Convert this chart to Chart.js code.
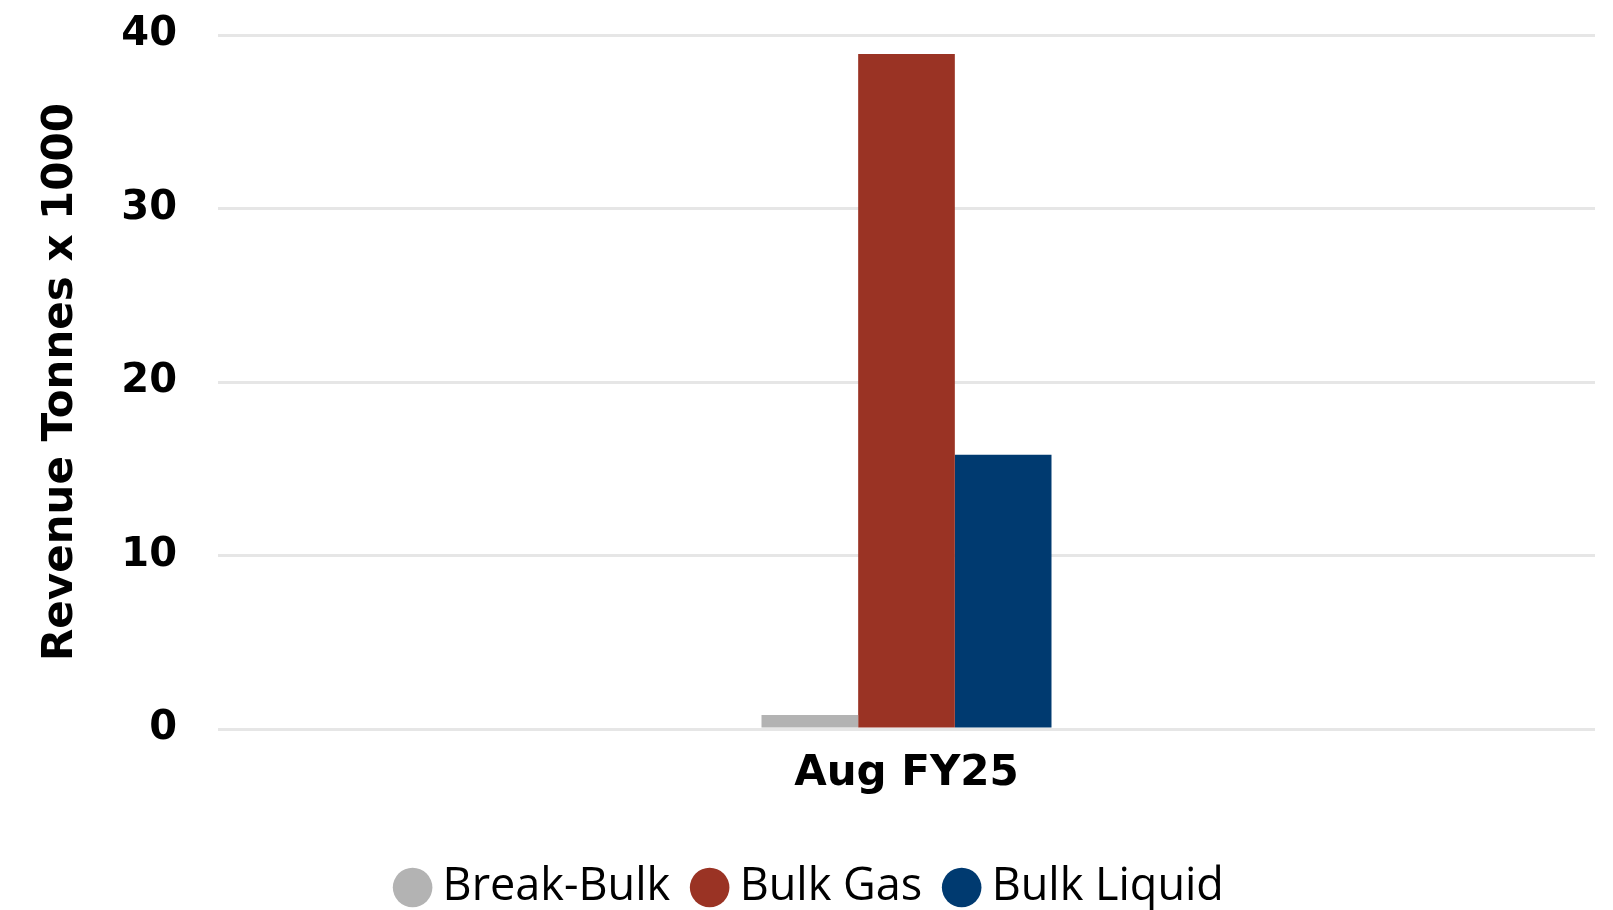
<!DOCTYPE html>
<html>
<head>
<meta charset="utf-8">
<script src="https://cdn.jsdelivr.net/npm/chart.js@4/dist/chart.umd.min.js"></script>
<style>
  html, body { margin: 0; padding: 0; background: #ffffff; }
  #wrap { width: 1613px; height: 910px; position: relative; }
</style>
</head>
<body>
<div id="wrap"><canvas id="c"></canvas></div>
<script>
const categories = ["Aug FY25"];
const seriesNames = ["Break-Bulk", "Bulk Gas", "Bulk Liquid"];
const breakBulk = [0.8];
const bulkGas = [38.9];
const bulkLiquid = [15.8];
const yTicks = [0, 10, 20, 30, 40];
const yTitle = "Revenue Tonnes x 1000";
const colors = ["#b3b3b3", "#9a3324", "#003a70"];

const seriesValues = [breakBulk, bulkGas, bulkLiquid];

const legendShift = {
  id: "legendShift",
  afterLayout(chart) {
    const lg = chart.legend;
    if (lg) { lg.left += 17; lg.right += 17; }
  }
};

new Chart(document.getElementById("c"), {
  type: "bar",
  data: {
    labels: categories,
    datasets: seriesNames.map((name, i) => ({
      label: name,
      data: seriesValues[i],
      backgroundColor: colors[i],
      borderWidth: 0,
      categoryPercentage: 0.2106,
      barPercentage: 1.0
    }))
  },
  plugins: [legendShift],
  options: {
    responsive: true,
    maintainAspectRatio: false,
    animation: false,
    devicePixelRatio: 1,
    layout: { padding: { top: 35, right: 18, bottom: -10, left: 0 } },
    plugins: {
      tooltip: { enabled: false },
      legend: {
        position: "bottom",
        labels: {
          usePointStyle: true,
          pointStyle: "circle",
          boxWidth: 15,
          boxHeight: 28,
          padding: 32,
          color: "#000000",
          font: { family: "'Open Sans', 'Noto Sans', sans-serif", size: 45 }
        }
      }
    },
    scales: {
      x: {
        grid: { display: false, drawTicks: false },
        border: { display: false },
        ticks: {
          color: "#000000",
          padding: 20,
          font: { family: "'DejaVu Sans', sans-serif", size: 42, weight: "bold" }
        },
        afterFit: (s) => { s.height = 104; }
      },
      y: {
        min: 0,
        max: 40,
        afterBuildTicks: (s) => { s.ticks = yTicks.map(v => ({ value: v })); },
        grid: { color: "#e6e6e6", lineWidth: 3, drawTicks: false },
        border: { display: false },
        ticks: {
          color: "#000000",
          padding: 41,
          font: { family: "'DejaVu Sans', sans-serif", size: 40, weight: "bold" }
        },
        title: {
          display: true,
          text: yTitle,
          color: "#000000",
          padding: { top: 36, bottom: 0 },
          font: { family: "'DejaVu Sans', sans-serif", size: 42, weight: "bold" }
        },
        afterFit: (s) => { s.width = 218; s.paddingTop = 0; s.paddingBottom = 0; }
      }
    }
  }
});
</script>
</body>
</html>
